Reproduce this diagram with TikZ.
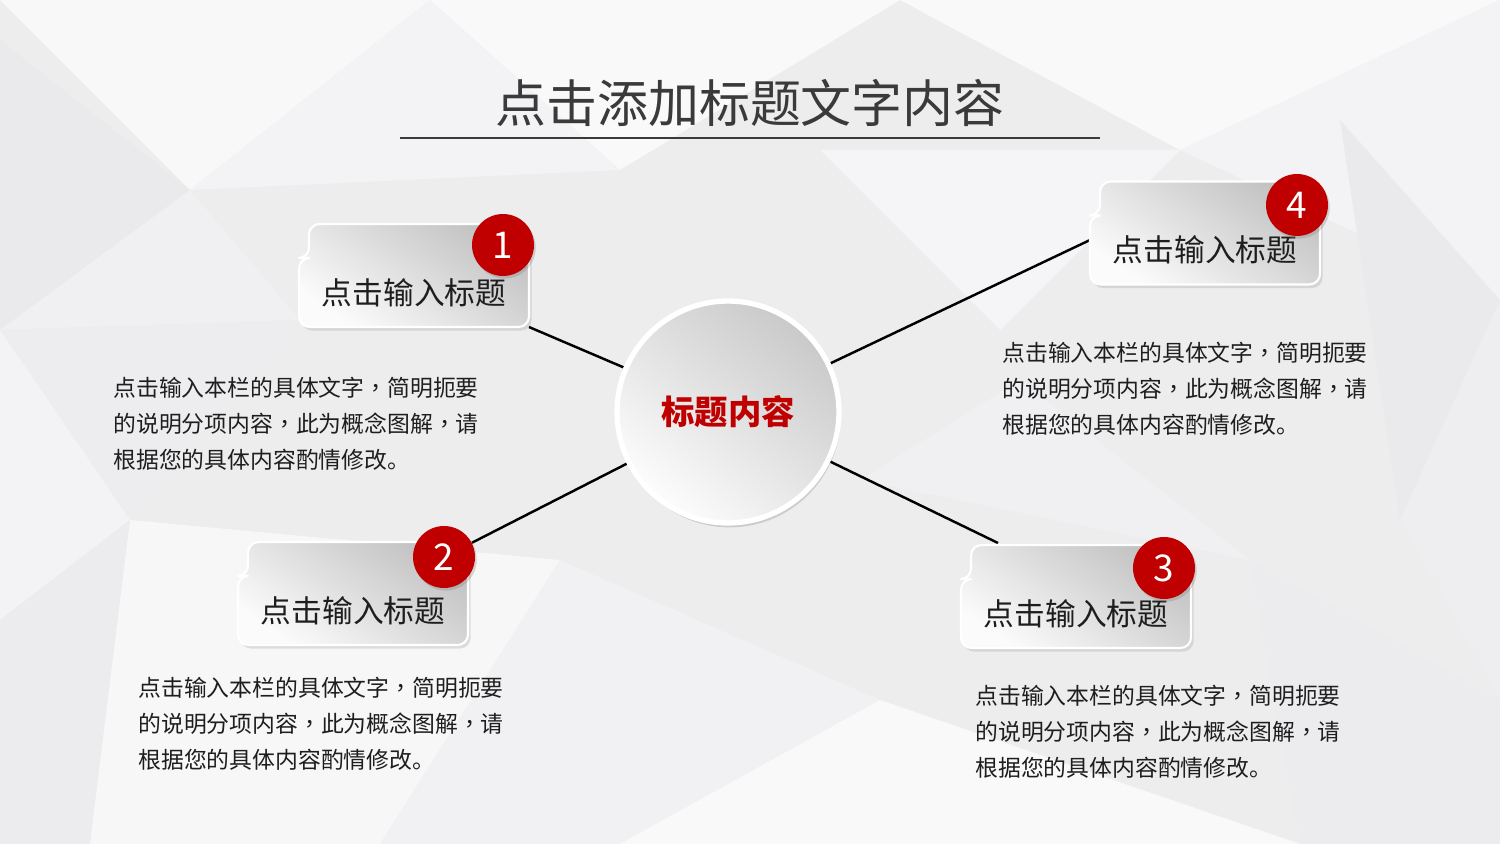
\documentclass[tikz,border=0pt]{standalone}
\usepackage{fontspec}
\setmainfont{Noto Sans CJK SC}
\newfontfamily\tcfont{Noto Sans CJK TC}
\newcommand\dou{{\tcfont ，}}
\usetikzlibrary{positioning,shadows,calc}
\definecolor{badgered}{HTML}{C00000}
\definecolor{titlegray}{HTML}{3A3A3A}
\definecolor{inkgray}{HTML}{1E1E1E}
\definecolor{paper}{HTML}{EDEDEE}
\colorlet{facet}{blue!8!gray}
\pgfdeclarelayer{backdrop}
\pgfdeclarelayer{plates}
\pgfsetlayers{backdrop,plates,main}

\begin{document}
\begin{tikzpicture}[x=0.02cm, y=-0.02cm, >=stealth]
		\tikzstyle{tagshape} = [top color=gray!48, bottom color=gray!3, shading angle=-35, draw=white, line width=1.2pt, rounded corners=6pt, drop shadow={shadow xshift=1.5pt, shadow yshift=-2pt, opacity=0.22}]
		\tikzstyle{tagtext} = [inner sep=0pt, outer sep=0pt, minimum width=4.6cm, minimum height=1.38cm, text=inkgray, font=\fontsize{17.5}{21}\selectfont]
		\tikzstyle{badge} = [circle, fill=badgered, minimum size=1.24cm, inner sep=0pt, text=white, font=\fontsize{21}{24}\selectfont, drop shadow={shadow xshift=1pt, shadow yshift=-1.5pt, opacity=0.3}]
		\tikzstyle{desc} = [anchor=west, align=left, inner sep=0pt, text=inkgray, font=\fontsize{13}{20.4}\selectfont]
		\tikzstyle{hubdisc} = [circle, minimum size=4.44cm, inner sep=0pt, top color=gray!42, bottom color=gray!2, shading angle=-40, draw=white, line width=3pt, text=badgered, font=\bfseries\fontsize{19}{22}\selectfont, drop shadow={shadow xshift=1pt, shadow yshift=-2.5pt, opacity=0.3}]
		\tikzstyle{link} = [line width=1.4pt, black]

		\useasboundingbox (0,0) rectangle (1500,844);

		\begin{pgfonlayer}{backdrop}
		\fill[paper] (0,0) rectangle (1500,844);
		\fill[facet!5] (0,0) -- (430,0) -- (190,190) -- cycle;
		\fill[facet!15] (0,40) -- (190,190) -- (0,330) -- cycle;
		\fill[facet!11] (190,190) -- (300,320) -- (0,330) -- cycle;
		\fill[facet!4] (430,0) -- (900,0) -- (620,170) -- cycle;
		\fill[facet!9] (430,0) -- (620,170) -- (190,190) -- cycle;
		\fill[facet!4] (900,0) -- (1500,0) -- (1180,150) -- cycle;
		\fill[facet!9] (1180,150) -- (1500,0) -- (1500,300) -- cycle;
		\fill[facet!15] (1340,120) -- (1500,300) -- (1400,520) -- cycle;
		\fill[facet!12] (1400,520) -- (1500,300) -- (1500,700) -- cycle;
		\fill[facet!14] (1250,560) -- (1500,700) -- (1500,844) -- (1300,844) -- cycle;
		\fill[facet!7] (820,150) -- (1180,150) -- (1000,330) -- cycle;
		\fill[facet!13] (0,330) -- (300,320) -- (130,520) -- cycle;
		\fill[facet!9] (0,330) -- (130,520) -- (0,620) -- cycle;
		\fill[facet!14] (0,620) -- (130,520) -- (90,844) -- (0,844) -- cycle;
		\fill[facet!6] (130,520) -- (560,560) -- (380,844) -- (90,844) -- cycle;
		\fill[facet!10] (560,560) -- (880,700) -- (620,844) -- (380,844) -- cycle;
		\fill[facet!4] (880,700) -- (1300,844) -- (620,844) -- cycle;
		\fill[facet!11] (860,480) -- (1250,560) -- (1020,380) -- cycle;

		\draw[titlegray, line width=0.8pt] (400,138) -- (1100,138);
		\end{pgfonlayer}

		\node[font=\fontsize{29}{34}\selectfont, text=titlegray] (title) at (750,103) {点击添加标题文字内容};

		\node[hubdisc] (hub) at (728,412) {标题内容};

		\node[tagtext] (t1) at (414,292.5) {点击输入标题};
		\node[tagtext] (t2) at (353,610.5) {点击输入标题};
		\node[tagtext] (t3) at (1076,613.5) {点击输入标题};
		\node[tagtext] (t4) at (1205,250) {点击输入标题};

		\node[badge] (n1) at (503,245) {1};
		\node[badge] (n2) at (444,557) {2};
		\node[badge] (n3) at (1164,568) {3};
		\node[badge] (n4) at (1297,205) {4};

		\node[desc] (d1) at (113,424) {点击输入本栏的具体文字\dou 简明扼要\\的说明分项内容\dou 此为概念图解\dou 请\\根据您的具体内容酌情修改。};
		\node[desc] (d2) at (138,724) {点击输入本栏的具体文字\dou 简明扼要\\的说明分项内容\dou 此为概念图解\dou 请\\根据您的具体内容酌情修改。};
		\node[desc] (d3) at (975,732) {点击输入本栏的具体文字\dou 简明扼要\\的说明分项内容\dou 此为概念图解\dou 请\\根据您的具体内容酌情修改。};
		\node[desc] (d4) at (1002,389) {点击输入本栏的具体文字\dou 简明扼要\\的说明分项内容\dou 此为概念图解\dou 请\\根据您的具体内容酌情修改。};

		\begin{pgfonlayer}{plates}
		\path[tagshape] (t1.south west) -- (t1.north west) -- ++(10,0) -- ++(0,-34) -- ++(220,0) -- (t1.south east) -- cycle;
		\path[tagshape] (t2.south west) -- (t2.north west) -- ++(10,0) -- ++(0,-34) -- ++(220,0) -- (t2.south east) -- cycle;
		\path[tagshape] (t3.south west) -- (t3.north west) -- ++(10,0) -- ++(0,-34) -- ++(220,0) -- (t3.south east) -- cycle;
		\path[tagshape] (t4.south west) -- (t4.north west) -- ++(10,0) -- ++(0,-34) -- ++(220,0) -- (t4.south east) -- cycle;
		\end{pgfonlayer}

		\begin{pgfonlayer}{backdrop}
		\draw[link] (t1.south east) -- (hub);
		\draw[link] (hub) -- (n2);
		\draw[link] (hub) -- ($(t3.north west)+(37,-36)$);
		\draw[link] (hub) -- ([yshift=0.2cm]t4.west);
		\end{pgfonlayer}
\end{tikzpicture}
\end{document}
